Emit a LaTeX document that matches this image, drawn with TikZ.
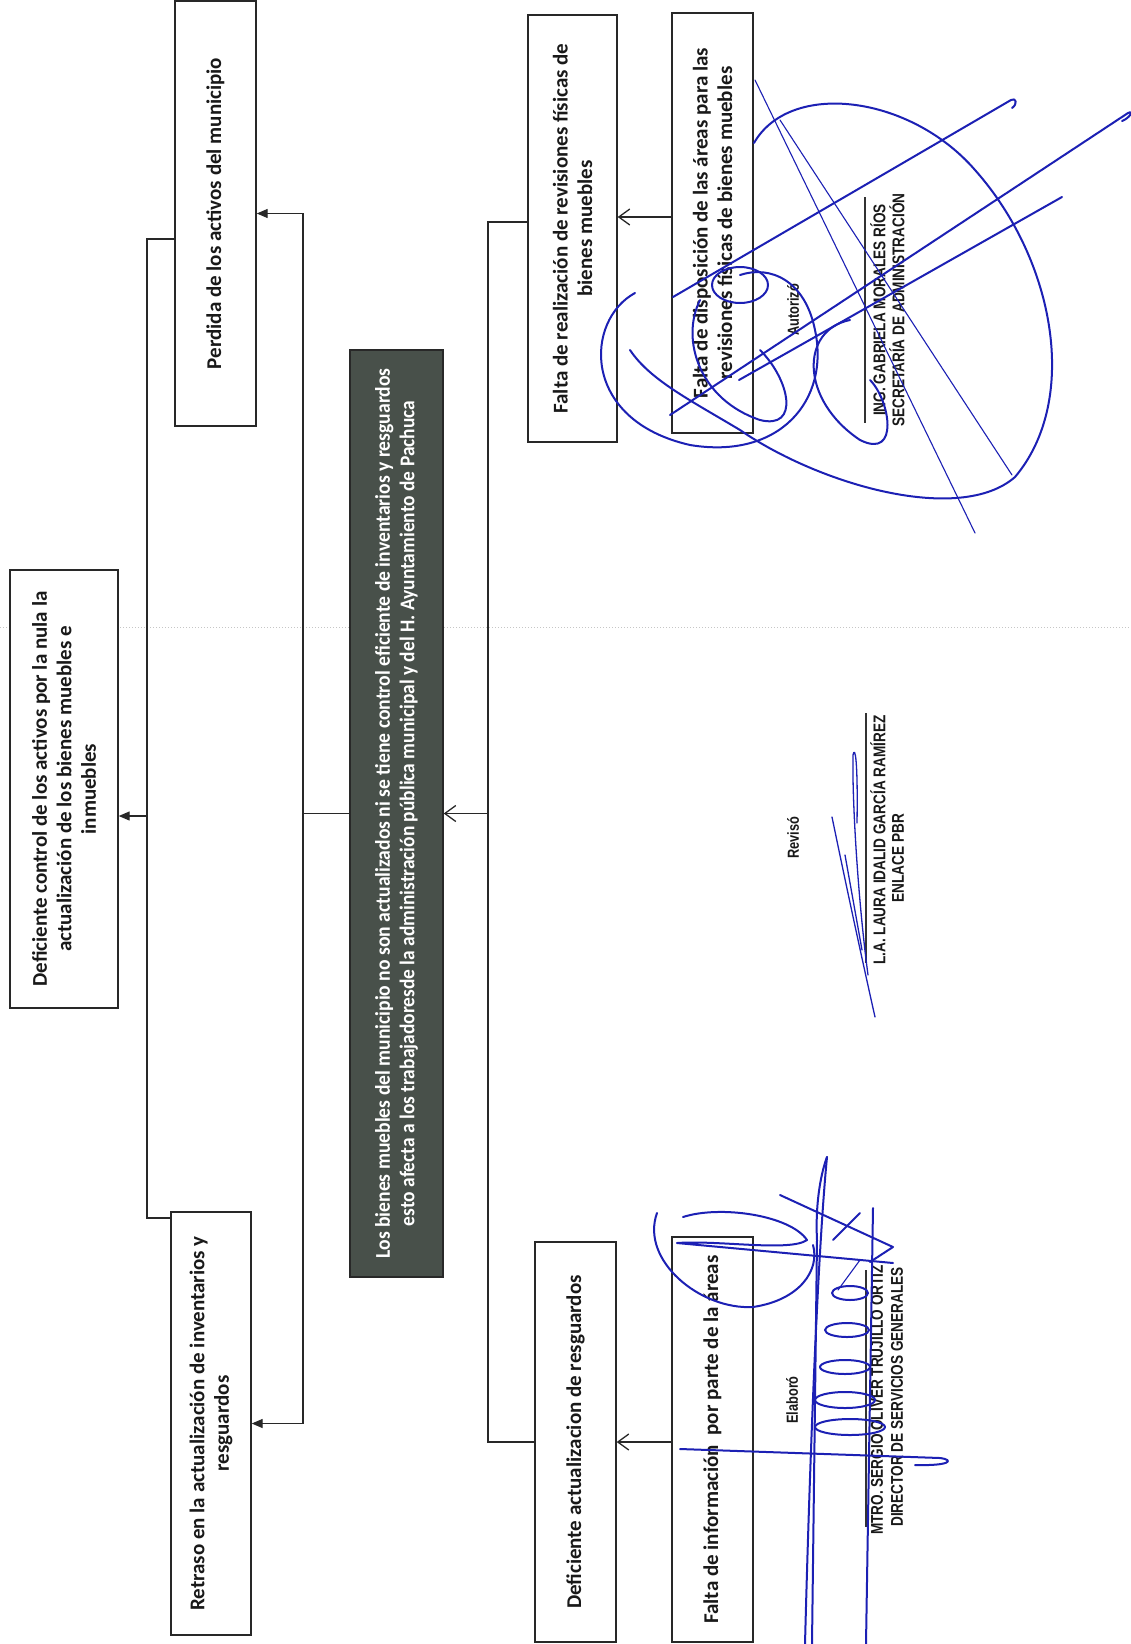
\documentclass[tikz,border=0pt]{standalone}
\usepackage{fontspec}
\setmainfont{Carlito}
\newfontfamily\sigfont[FakeStretch=0.8]{Liberation Sans}
\usetikzlibrary{arrows.meta,calc}
\definecolor{ink}{RGB}{28,32,180}
\definecolor{darkbox}{RGB}{72,80,74}
\definecolor{linec}{RGB}{40,40,40}
\newcommand{\vlines}[2]{\rotatebox{90}{\parbox{#1}{\centering #2}}}
\begin{document}
\begin{tikzpicture}[x=1pt,y=-1pt,
  box/.style={draw=linec, line width=1.4pt, fill=white, inner sep=0pt, text=black!90,
    font=\bfseries\fontsize{21}{24.5}\selectfont},
  conn/.style={draw=linec, line width=1.3pt},
  arrT/.style={-{Triangle[length=11pt,width=9pt]}},
  arrB/.style={-{Straight Barb[length=11pt,width=16pt]}},
  sig/.style={font=\sigfont\bfseries\fontsize{17}{20}\selectfont, rotate=90, inner sep=0pt, text=black!90},
  lab/.style={font=\sigfont\bfseries\fontsize{16}{19}\selectfont, rotate=90, inner sep=0pt, text=black!90},
  sigline/.style={draw=black!80, line width=1.2pt},
  ink/.style={draw=ink, line width=2pt, line cap=round, line join=round},
  thinink/.style={draw=ink, line width=1.1pt, line cap=round}]
\useasboundingbox (0,0) rectangle (1131,1644);
\fill[white] (0,0) rectangle (1131,1644);
\draw[gray!45, dotted, line width=1pt] (0,627) -- (1131,627);

% boxes
\node[box, minimum width=108pt, minimum height=438pt] (defc) at (64,789)
  {\vlines{430pt}{Deficiente control de los activos por la nula la\\actualización de los bienes muebles e\\inmuebles}};
\node[box, minimum width=81pt, minimum height=425pt] (perd) at (215.5,213.5)
  {\vlines{420pt}{Perdida de los activos del municipio}};
\node[box, minimum width=80pt, minimum height=423pt] (retr) at (211,1423.5)
  {\vlines{420pt}{Retraso en la actualización de inventarios y\\resguardos}};
\node[box, fill=darkbox, text=white, minimum width=93pt, minimum height=927pt] (cent) at (396.5,813.5)
  {\vlines{920pt}{\resizebox{890pt}{\height}{Los bienes muebles del municipio no son actualizados ni se tiene control eficiente de inventarios y resguardos}\\
   \resizebox{825pt}{\height}{esto afecta a los trabajadoresde la administración pública municipal y del H. Ayuntamiento de Pachuca}}};
\node[box, minimum width=89pt, minimum height=427pt] (freal) at (572.5,228.5)
  {\vlines{420pt}{Falta de realización de revisiones físicas de\\bienes muebles}};
\node[box, minimum width=81pt, minimum height=420pt] (fdisp) at (712.5,223)
  {\vlines{415pt}{Falta de disposición de las áreas para las\\revisiones físicas de bienes muebles}};
\node[box, minimum width=81pt, minimum height=400pt] (dact) at (575.5,1442)
  {\vlines{395pt}{Deficiente actualizacion de resguardos}};
\node[box, minimum width=81pt, minimum height=405pt] (finfo) at (712.5,1439.5)
  {\vlines{400pt}{Falta de información\ \ por parte de la áreas}};

% junctions
\coordinate (j1) at (147,816);
\coordinate (j2) at (303,813.5);
\coordinate (j3) at (488,813.5);

% connectors
\draw[conn] ([yshift=-25.5pt]perd.west) -| (j1) |- ([yshift=205.5pt]retr.west);
\draw[conn, arrT] (j1) -- (j1 -| defc.east);
\draw[conn] (cent.west) -- (j2);
\draw[conn, arrT] (j2) |- (perd.east);
\draw[conn, arrT] (j2) |- (retr.east);
\draw[conn, arrB] (j3) -- (cent.east);
\draw[conn] ([yshift=6.5pt]freal.west) -| (j3) |- (dact.west);
\draw[conn, arrB] ([yshift=6pt]fdisp.west) -- ([yshift=11.5pt]freal.east);
\draw[conn, arrB] (finfo.west |- dact.east) -- (dact.east);

% signature blocks
\node[lab] (lrev) at (793,838) {Revisó};
\draw[sigline] (866,713) -- (866,963);
\node[sig] (nrev1) at (878,840) {L.A. LAURA IDALID GARCÍA RAMÍREZ};
\node[sig] (nrev2) at (898,858) {ENLACE PBR};

\node[lab] (laut) at (793,310) {Autorizó};
\draw[sigline] (865,197) -- (865,423);
\node[sig] (naut1) at (878,310) {ING. GABRIELA MORALES RÍOS};
\node[sig] (naut2) at (897,310) {SECRETARÍA DE ADMINISTRACIÓN};

\node[lab] (lela) at (792,1400) {Elaboró};
\draw[sigline] (866,1270) -- (866,1527);
\node[sig] (nela1) at (877,1400) {MTRO. SERGIO OLIVER TRUJILLO ORTIZ};
\node[sig] (nela2) at (897,1397) {DIRECTOR DE SERVICIOS GENERALES};

% ink: Autorizo signature
\draw[ink] (670,415) -- (1128,113) .. controls (1134,110) and (1130,118) .. (1122,121);
\draw[ink] (673,297) -- (1011,100) .. controls (1016,97) and (1018,104) .. (1012,108);
\draw[ink] (739,380) -- (1062,197);
\draw[thinink] (755,80) -- (975,533);
\draw[thinink] (780,120) -- (1012,475);
\draw[ink] (754,143) .. controls (790,80) and (910,95) .. (975,170)
  .. controls (1055,260) and (1080,400) .. (1015,477)
  .. controls (960,525) and (820,485) .. (740,430)
  .. controls (690,400) and (650,380) .. (630,350);
\draw[ink] (635,293) .. controls (585,320) and (580,420) .. (690,445)
  .. controls (780,460) and (830,400) .. (815,330)
  .. controls (805,280) and (770,265) .. (740,275);
\draw[ink] (740,285) ellipse [x radius=28, y radius=18];
\draw[ink] (850,320) .. controls (800,330) and (800,400) .. (860,440)
  .. controls (900,460) and (890,400) .. (870,380);
\draw[ink] (700,300) .. controls (680,340) and (700,400) .. (760,420)
  .. controls (800,430) and (790,380) .. (760,350);

% ink: Reviso signature
\draw[ink, line width=1.3pt] (875,1017) .. controls (860,950) and (845,880) .. (832,817);
\draw[ink, line width=1.3pt] (862,950) -- (845,855);
\draw[ink, line width=1.3pt] (868,975) .. controls (858,900) and (852,800) .. (853,755)
  .. controls (855,745) and (858,760) .. (857,823);

% ink: Elaboro signature
\draw[ink] (827,1157) .. controls (818,1250) and (810,1450) .. (805,1644);
\draw[ink] (827,1157) .. controls (822,1170) and (815,1200) .. (817,1240) -- (812,1644);
\draw[ink] (873,1208) -- (866,1644);
\draw[ink] (680,1449) -- (940,1458) .. controls (955,1460) and (950,1466) .. (915,1465);
\draw[ink] (850,1293) ellipse [x radius=18, y radius=7];
\draw[ink] (847,1330) ellipse [x radius=22, y radius=7];
\draw[ink] (845,1367) ellipse [x radius=25, y radius=7];
\draw[ink] (845,1400) ellipse [x radius=30, y radius=8];
\draw[ink] (850,1427) ellipse [x radius=35, y radius=8];
\draw[ink] (683,1217) .. controls (720,1205) and (790,1215) .. (807,1240)
  .. controls (790,1252) and (720,1240) .. (677,1243) -- (893,1263);
\draw[ink] (657,1213) .. controls (640,1260) and (700,1310) .. (753,1307)
  .. controls (800,1300) and (820,1270) .. (813,1245);
\draw[ink] (780,1195) -- (893,1247) -- (870,1262);
\draw[ink] (833,1240) -- (860,1213);
\draw[thinink] (838,1290) -- (860,1260);
\end{tikzpicture}
\end{document}
